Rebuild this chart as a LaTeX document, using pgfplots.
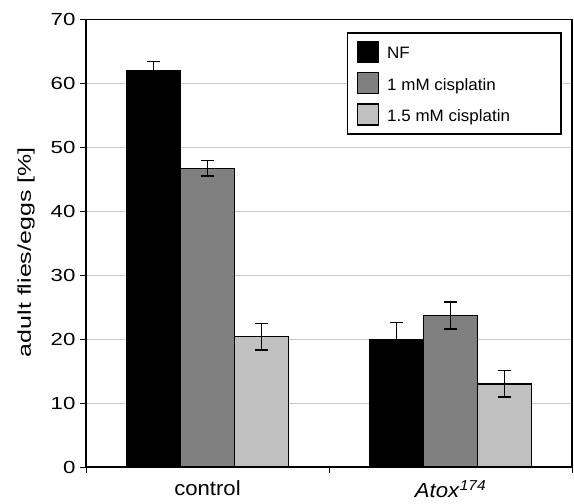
\documentclass[border=0pt]{standalone}
\usepackage{pgfplots}
\pgfplotsset{compat=1.18}
\usepackage{fontspec}
\setmainfont{Liberation Sans}
\newfontfamily\tickfont{Liberation Sans}[FakeStretch=1.27]
\newfontfamily\ylfont{Liberation Sans}[FakeStretch=1.35]
\newfontfamily\xlfont{Liberation Sans}[FakeStretch=1.08]
\newfontfamily\legfont{Liberation Sans}[FakeStretch=1.03]
\definecolor{midgray}{RGB}{128,128,128}
\definecolor{lightgray2}{RGB}{192,192,192}
\definecolor{gridgray}{RGB}{200,200,200}
\begin{document}
\begin{tikzpicture}
\begin{axis}[
  scale only axis,
  width=486pt, height=447.5pt,
  ybar,
  xmin=-0.5, xmax=1.5,
  ymin=0, ymax=70,
  ytick={0,10,...,70},
  xtick={0,1},
  xticklabels={control, \textit{Atox}\textsuperscript{\textit{174}}},
  minor xtick={-0.5,0.5,1.5},
  major x tick style={draw=none},
  tick align=outside,
  major tick length=6pt,
  minor tick length=6pt,
  tick style={black, line width=0.8pt},
  xtick pos=bottom, ytick pos=left,
  ymajorgrids,
  grid style={gridgray, line width=1pt},
  axis line style={black, line width=1.6pt},
  /pgf/number format/assume math mode=true,
  yticklabel style={font=\tickfont\fontsize{17.5}{20}\selectfont, xshift=-1pt},
  xticklabel style={font=\xlfont\fontsize{20.5}{24}\selectfont, yshift=-4pt},
  ylabel={adult flies/eggs [\%]},
  ylabel style={font=\ylfont\fontsize{18.5}{22}\selectfont, at={(axis description cs:-0.1235,0.48)}, anchor=center},
  legend style={at={(0.979,0.972)}, anchor=north east, draw=black, line width=1.6pt,
    font=\legfont\fontsize{16.5}{19}\selectfont, row sep=9pt, inner xsep=9pt, inner ysep=8pt,
    nodes={inner xsep=2pt}},
  legend cell align=left,
  legend image code/.code={\draw[#1, line width=1.3pt] (0pt,-9pt) rectangle (21pt,12pt); \path[draw=none, fill=none] (0pt,0pt) -- (28pt,0pt);},
  error bars/y dir=both, error bars/y explicit,
  error bars/error bar style={black, line width=1.3pt},
  error bars/error mark options={black, rotate=90, mark size=6.5pt, line width=1.3pt},
]
\addplot[bar width=0.2222, bar shift=-0.2222, fill=black, draw=black, line width=1.3pt]
  coordinates {(0,62.0) +- (0,1.4) (1,19.9) +- (0,2.7)};
\addlegendentry{NF}
\addplot[bar width=0.2222, bar shift=0, fill=midgray, draw=black, line width=1.3pt]
  coordinates {(0,46.7) +- (0,1.2) (1,23.7) +- (0,2.1)};
\addlegendentry{1 mM cisplatin}
\addplot[bar width=0.2222, bar shift=0.2222, fill=lightgray2, draw=black, line width=1.3pt]
  coordinates {(0,20.4) +- (0,2.1) (1,13.0) +- (0,2.05)};
\addlegendentry{1.5 mM cisplatin\hspace*{40pt}}
\end{axis}
\path[use as bounding box] ([shift={(-86pt,-37pt)}]current axis.south west) rectangle ([shift={(2pt,19.5pt)}]current axis.north east);
\end{tikzpicture}
\end{document}
